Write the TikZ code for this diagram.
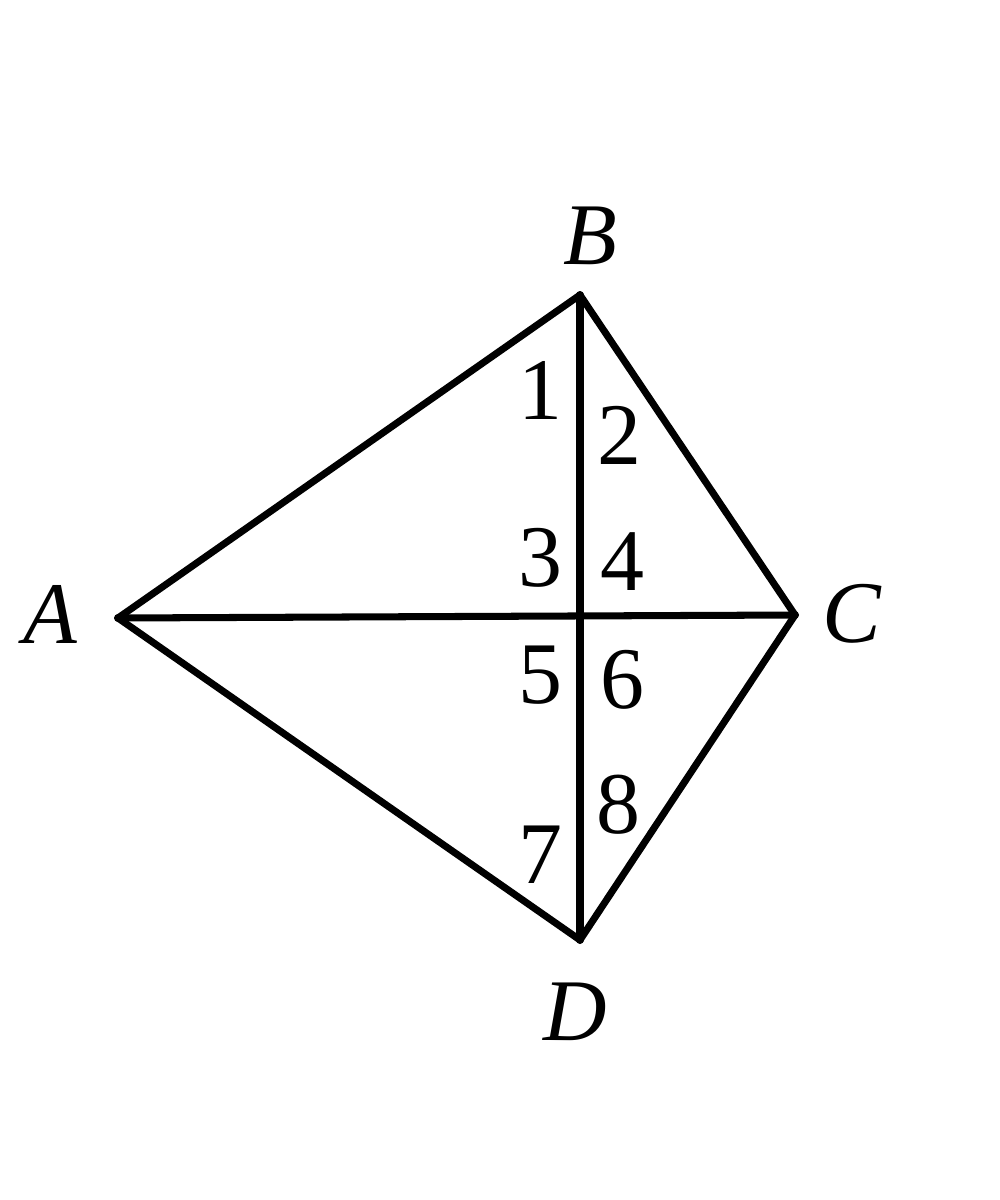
\documentclass[tikz,border=0pt]{standalone}
\usepackage{fontspec}
\setmainfont{Liberation Serif}
\begin{document}
\begin{tikzpicture}[x=0.01cm,y=-0.01cm,
  edge/.style={line width=2pt,line join=round,line cap=round},
  ptlabel/.style={font=\fontsize{25}{30}\selectfont\itshape,inner sep=0pt},
  anglabel/.style={font=\fontsize{25}{30}\selectfont,inner sep=0pt}]
\useasboundingbox (0,0) rectangle (1000,1200);
\coordinate (A) at (118,618);
\coordinate (B) at (580,295);
\coordinate (C) at (795,615);
\coordinate (D) at (580,940);
\draw[edge] (A) -- (B) -- (C) -- (D) -- cycle;
\draw[edge] (A) -- (C);
\draw[edge] (B) -- (D);
\fill (A) circle (4);
\fill (B) circle (4);
\fill (C) circle (4);
\fill (D) circle (4);
\node[ptlabel] (lA) at (50,614) {A};
\node[ptlabel] (lB) at (590,236) {B};
\node[ptlabel] (lC) at (852,614) {C};
\node[ptlabel] (lD) at (575,1012) {D};
\node[anglabel] (n1) at (540,390) {1};
\node[anglabel] (n2) at (619,435) {2};
\node[anglabel] (n3) at (540,558) {3};
\node[anglabel] (n4) at (622,562) {4};
\node[anglabel] (n5) at (540,675) {5};
\node[anglabel] (n6) at (622,680) {6};
\node[anglabel] (n7) at (540,855) {7};
\node[anglabel] (n8) at (618,805) {8};
\end{tikzpicture}
\end{document}
